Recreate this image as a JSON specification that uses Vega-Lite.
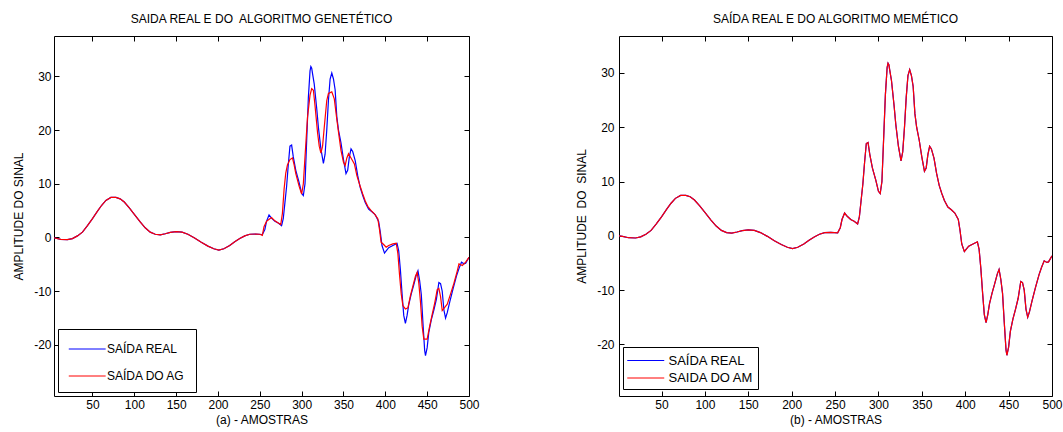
{
  "$schema": "https://vega.github.io/schema/vega-lite/v6.json",
  "background": "white",
  "padding": {"left": 12, "top": 12, "right": 0, "bottom": 5},
  "spacing": 95,
  "config": {
    "font": "Liberation Sans",
    "view": {"stroke": "black", "strokeWidth": 1},
    "axis": {"grid": false, "domain": false, "ticks": true, "offset": -5, "tickSize": 5, "tickWidth": 1, "tickColor": "#000000", "tickOpacity": 1, "labelColor": "black", "titleColor": "black", "labelFont": "Liberation Sans", "titleFont": "Liberation Sans", "labelFontSize": 12, "titleFontSize": 12, "titleFontWeight": "normal", "labelPadding": 3, "labelFlush": false, "labelOverlap": false, "labelExpr": "'' + datum.value", "zindex": 1},
    "title": {"font": "Liberation Sans", "fontSize": 12, "fontWeight": "normal", "color": "black", "offset": 10},
    "legend": {"labelFont": "Liberation Sans", "labelFontSize": 12, "labelColor": "black", "strokeColor": "black", "fillColor": "white"}
  },
  "datasets": {
    "real": [{"n":1,"v":0},{"n":5,"v":-0.1},{"n":12,"v":-0.35},{"n":20,"v":-0.4},{"n":26,"v":-0.2},{"n":32,"v":0.3},{"n":38,"v":1.0},{"n":44,"v":2.2},{"n":50,"v":3.5},{"n":56,"v":4.9},{"n":61,"v":6.0},{"n":66,"v":6.9},{"n":72,"v":7.45},{"n":78,"v":7.45},{"n":83,"v":7.2},{"n":88,"v":6.6},{"n":94,"v":5.5},{"n":100,"v":4.3},{"n":107,"v":2.9},{"n":113,"v":1.8},{"n":119,"v":1.0},{"n":125,"v":0.6},{"n":131,"v":0.5},{"n":137,"v":0.7},{"n":143,"v":0.95},{"n":150,"v":1.1},{"n":157,"v":1.0},{"n":164,"v":0.6},{"n":172,"v":-0.1},{"n":180,"v":-0.9},{"n":188,"v":-1.6},{"n":195,"v":-2.1},{"n":201,"v":-2.35},{"n":207,"v":-2.1},{"n":214,"v":-1.5},{"n":220,"v":-0.8},{"n":226,"v":-0.2},{"n":232,"v":0.3},{"n":238,"v":0.6},{"n":245,"v":0.65},{"n":253,"v":0.55},{"n":256,"v":1.5},{"n":258,"v":3.0},{"n":261,"v":4.2},{"n":264,"v":3.6},{"n":268,"v":3.0},{"n":272,"v":2.7},{"n":276,"v":2.2},{"n":278,"v":3.5},{"n":280,"v":6.5},{"n":282,"v":9.5},{"n":284,"v":13.5},{"n":286,"v":17.0},{"n":288,"v":17.2},{"n":290,"v":15.0},{"n":293,"v":12.5},{"n":297,"v":10.2},{"n":300,"v":8.2},{"n":302,"v":7.8},{"n":304,"v":10.0},{"n":306,"v":18},{"n":308,"v":26},{"n":310,"v":31},{"n":311,"v":31.8},{"n":312,"v":31.5},{"n":313,"v":30.5},{"n":315,"v":28.6},{"n":318,"v":24},{"n":320,"v":20.5},{"n":323,"v":16.5},{"n":326,"v":13.8},{"n":328,"v":15.5},{"n":330,"v":20},{"n":332,"v":25.5},{"n":334,"v":29.5},{"n":336,"v":30.6},{"n":338,"v":29.5},{"n":340,"v":27.5},{"n":342,"v":22.5},{"n":344,"v":20.0},{"n":347,"v":17.6},{"n":350,"v":14.5},{"n":353,"v":11.9},{"n":355,"v":12.5},{"n":357,"v":15.0},{"n":359,"v":16.5},{"n":361,"v":16.0},{"n":364,"v":14.3},{"n":367,"v":11.5},{"n":370,"v":9.3},{"n":373,"v":7.8},{"n":376,"v":6.5},{"n":380,"v":5.3},{"n":384,"v":4.8},{"n":388,"v":4.2},{"n":392,"v":3.0},{"n":394,"v":1.0},{"n":396,"v":-1.5},{"n":399,"v":-2.9},{"n":401,"v":-2.5},{"n":404,"v":-1.9},{"n":409,"v":-1.5},{"n":414,"v":-1.1},{"n":416,"v":-2.5},{"n":418,"v":-6.0},{"n":420,"v":-10.5},{"n":422,"v":-14.5},{"n":424,"v":-16.0},{"n":426,"v":-14.5},{"n":428,"v":-12.5},{"n":431,"v":-10.5},{"n":434,"v":-8.8},{"n":437,"v":-7.0},{"n":439,"v":-6.2},{"n":441,"v":-8.0},{"n":443,"v":-10.6},{"n":445,"v":-16.0},{"n":447,"v":-21.0},{"n":448,"v":-22.0},{"n":450,"v":-20.5},{"n":452,"v":-17.6},{"n":455,"v":-15.3},{"n":458,"v":-13.5},{"n":461,"v":-11.5},{"n":464,"v":-8.4},{"n":466,"v":-8.6},{"n":468,"v":-10.0},{"n":470,"v":-13.5},{"n":472,"v":-15.0},{"n":474,"v":-14.0},{"n":477,"v":-12.0},{"n":481,"v":-9.5},{"n":485,"v":-7.2},{"n":488,"v":-5.8},{"n":491,"v":-4.6},{"n":494,"v":-4.9},{"n":496,"v":-4.8},{"n":500,"v":-3.7}],
    "ag": [{"n":1,"v":0},{"n":5,"v":-0.1},{"n":12,"v":-0.35},{"n":20,"v":-0.4},{"n":26,"v":-0.2},{"n":32,"v":0.3},{"n":38,"v":1.0},{"n":44,"v":2.2},{"n":50,"v":3.5},{"n":56,"v":4.9},{"n":61,"v":6.0},{"n":66,"v":6.9},{"n":72,"v":7.45},{"n":78,"v":7.45},{"n":83,"v":7.2},{"n":88,"v":6.6},{"n":94,"v":5.5},{"n":100,"v":4.3},{"n":107,"v":2.9},{"n":113,"v":1.8},{"n":119,"v":1.0},{"n":125,"v":0.6},{"n":131,"v":0.5},{"n":137,"v":0.7},{"n":143,"v":0.95},{"n":150,"v":1.1},{"n":157,"v":1.0},{"n":164,"v":0.6},{"n":172,"v":-0.1},{"n":180,"v":-0.9},{"n":188,"v":-1.6},{"n":195,"v":-2.1},{"n":201,"v":-2.35},{"n":207,"v":-2.1},{"n":214,"v":-1.5},{"n":220,"v":-0.8},{"n":226,"v":-0.2},{"n":232,"v":0.3},{"n":238,"v":0.6},{"n":245,"v":0.65},{"n":250,"v":0.6},{"n":253,"v":0.4},{"n":255,"v":2.0},{"n":258,"v":3.0},{"n":262,"v":3.5},{"n":264,"v":3.7},{"n":268,"v":3.1},{"n":272,"v":2.7},{"n":275,"v":2.4},{"n":277,"v":4.5},{"n":279,"v":9.0},{"n":281,"v":12.0},{"n":283,"v":13.5},{"n":286,"v":14.5},{"n":289,"v":14.8},{"n":291,"v":13.5},{"n":293,"v":11.9},{"n":297,"v":9.5},{"n":300,"v":8.1},{"n":302,"v":10.0},{"n":304,"v":15},{"n":307,"v":22.4},{"n":310,"v":26.5},{"n":312,"v":27.7},{"n":314,"v":27.4},{"n":316,"v":24.5},{"n":319,"v":19.5},{"n":321,"v":17.0},{"n":323,"v":15.7},{"n":325,"v":17},{"n":327,"v":20.5},{"n":330,"v":25.5},{"n":332,"v":26.8},{"n":336,"v":27.1},{"n":339,"v":25.8},{"n":342,"v":22.0},{"n":345,"v":18.5},{"n":347,"v":16.2},{"n":350,"v":14.0},{"n":352,"v":13.4},{"n":354,"v":14.8},{"n":356,"v":15.6},{"n":359,"v":14.8},{"n":363,"v":13.7},{"n":366,"v":11.5},{"n":370,"v":9.5},{"n":373,"v":8.1},{"n":376,"v":6.8},{"n":379,"v":5.8},{"n":383,"v":5.0},{"n":387,"v":4.4},{"n":391,"v":3.5},{"n":393,"v":1.5},{"n":395,"v":-0.9},{"n":398,"v":-1.3},{"n":401,"v":-1.8},{"n":404,"v":-1.5},{"n":409,"v":-1.2},{"n":413,"v":-1.05},{"n":415,"v":-3.0},{"n":417,"v":-7.0},{"n":419,"v":-10.5},{"n":421,"v":-12.7},{"n":424,"v":-13.3},{"n":427,"v":-13.1},{"n":430,"v":-10.8},{"n":433,"v":-9.0},{"n":436,"v":-7.2},{"n":438,"v":-6.5},{"n":440,"v":-8.5},{"n":442,"v":-12.0},{"n":444,"v":-16.5},{"n":446,"v":-18.9},{"n":450,"v":-18.9},{"n":453,"v":-16.5},{"n":456,"v":-14.3},{"n":459,"v":-12.2},{"n":462,"v":-9.7},{"n":464,"v":-9.5},{"n":466,"v":-11.0},{"n":468,"v":-13.6},{"n":471,"v":-13.0},{"n":474,"v":-12.4},{"n":478,"v":-10.5},{"n":482,"v":-8.5},{"n":486,"v":-6.2},{"n":488,"v":-4.9},{"n":492,"v":-5.2},{"n":496,"v":-4.6},{"n":500,"v":-3.7}],
    "am": [{"n":1,"v":0},{"n":5,"v":-0.1},{"n":12,"v":-0.35},{"n":20,"v":-0.4},{"n":26,"v":-0.2},{"n":32,"v":0.3},{"n":38,"v":1.0},{"n":44,"v":2.2},{"n":50,"v":3.5},{"n":56,"v":4.9},{"n":61,"v":6.0},{"n":66,"v":6.9},{"n":72,"v":7.45},{"n":78,"v":7.45},{"n":83,"v":7.2},{"n":88,"v":6.6},{"n":94,"v":5.5},{"n":100,"v":4.3},{"n":107,"v":2.9},{"n":113,"v":1.8},{"n":119,"v":1.0},{"n":125,"v":0.6},{"n":131,"v":0.5},{"n":137,"v":0.7},{"n":143,"v":0.95},{"n":150,"v":1.1},{"n":157,"v":1.0},{"n":164,"v":0.6},{"n":172,"v":-0.1},{"n":180,"v":-0.9},{"n":188,"v":-1.6},{"n":195,"v":-2.1},{"n":201,"v":-2.35},{"n":207,"v":-2.1},{"n":214,"v":-1.5},{"n":220,"v":-0.8},{"n":226,"v":-0.2},{"n":232,"v":0.3},{"n":238,"v":0.6},{"n":245,"v":0.65},{"n":253,"v":0.55},{"n":256,"v":1.5},{"n":258,"v":3.0},{"n":261,"v":4.2},{"n":264,"v":3.6},{"n":268,"v":3.0},{"n":272,"v":2.7},{"n":276,"v":2.2},{"n":278,"v":3.5},{"n":280,"v":6.5},{"n":282,"v":9.5},{"n":284,"v":13.5},{"n":286,"v":17.0},{"n":288,"v":17.2},{"n":290,"v":15.0},{"n":293,"v":12.5},{"n":297,"v":10.2},{"n":300,"v":8.2},{"n":302,"v":7.8},{"n":304,"v":10.0},{"n":306,"v":18},{"n":308,"v":26},{"n":310,"v":31},{"n":311,"v":31.8},{"n":312,"v":31.5},{"n":313,"v":30.5},{"n":315,"v":28.6},{"n":318,"v":24},{"n":320,"v":20.5},{"n":323,"v":16.5},{"n":326,"v":13.8},{"n":328,"v":15.5},{"n":330,"v":20},{"n":332,"v":25.5},{"n":334,"v":29.5},{"n":336,"v":30.6},{"n":338,"v":29.5},{"n":340,"v":27.5},{"n":342,"v":22.5},{"n":344,"v":20.0},{"n":347,"v":17.6},{"n":350,"v":14.5},{"n":353,"v":11.9},{"n":355,"v":12.5},{"n":357,"v":15.0},{"n":359,"v":16.5},{"n":361,"v":16.0},{"n":364,"v":14.3},{"n":367,"v":11.5},{"n":370,"v":9.3},{"n":373,"v":7.8},{"n":376,"v":6.5},{"n":380,"v":5.3},{"n":384,"v":4.8},{"n":388,"v":4.2},{"n":392,"v":3.0},{"n":394,"v":1.0},{"n":396,"v":-1.5},{"n":399,"v":-2.9},{"n":401,"v":-2.5},{"n":404,"v":-1.9},{"n":409,"v":-1.5},{"n":414,"v":-1.1},{"n":416,"v":-2.5},{"n":418,"v":-6.0},{"n":420,"v":-10.5},{"n":422,"v":-14.5},{"n":424,"v":-16.0},{"n":426,"v":-14.5},{"n":428,"v":-12.5},{"n":431,"v":-10.5},{"n":434,"v":-8.8},{"n":437,"v":-7.0},{"n":439,"v":-6.2},{"n":441,"v":-8.0},{"n":443,"v":-10.6},{"n":445,"v":-16.0},{"n":447,"v":-21.0},{"n":448,"v":-22.0},{"n":450,"v":-20.5},{"n":452,"v":-17.6},{"n":455,"v":-15.3},{"n":458,"v":-13.5},{"n":461,"v":-11.5},{"n":464,"v":-8.4},{"n":466,"v":-8.6},{"n":468,"v":-10.0},{"n":470,"v":-13.5},{"n":472,"v":-15.0},{"n":474,"v":-14.0},{"n":477,"v":-12.0},{"n":481,"v":-9.5},{"n":485,"v":-7.2},{"n":488,"v":-5.8},{"n":491,"v":-4.6},{"n":494,"v":-4.9},{"n":496,"v":-4.8},{"n":500,"v":-3.7}]
  },
  "resolve": {"scale": {"color": "independent"}, "legend": {"color": "independent"}},
  "hconcat": [
    {
      "title": "SAIDA REAL E DO\u00a0 ALGORITMO GENETÉTICO",
      "width": 415,
      "height": 360,
      "resolve": {"axis": {"x": "independent", "y": "independent"}},
      "layer": [
        {
          "data": {"name": "real"},
          "mark": {"type": "line", "clip": true, "strokeWidth": 1.2},
          "encoding": {
            "x": {"field": "n", "type": "quantitative", "scale": {"domain": [4, 500], "nice": false, "zero": false}, "axis": {"values": [50,100,150,200,250,300,350,400,450,500], "title": "(a) - AMOSTRAS", "titlePadding": 4}},
            "y": {"field": "v", "type": "quantitative", "scale": {"domain": [-29.5, 37.5], "nice": false, "zero": false}, "axis": {"values": [-20,-10,0,10,20,30], "title": "AMPLITUDE DO SINAL", "titlePadding": 8}},
            "color": {"datum": "SAÍDA REAL", "type": "nominal", "scale": {"domain": ["SAÍDA REAL", "SAÍDA DO AG"], "range": ["#0000ff", "#ff0000"]},
              "legend": {"orient": "none", "legendX": 4, "legendY": 293, "title": null, "symbolType": "M-1,0H3", "symbolSize": 340, "symbolStrokeWidth": 1, "labelOffset": 19, "padding": 10, "rowPadding": 11}}
          }
        },
        {
          "data": {"name": "ag"},
          "mark": {"type": "line", "clip": true, "strokeWidth": 1.2},
          "encoding": {
            "x": {"field": "n", "type": "quantitative", "axis": null},
            "y": {"field": "v", "type": "quantitative", "axis": null},
            "color": {"datum": "SAÍDA DO AG", "type": "nominal"}
          }
        },
        {
          "data": {"name": "real"},
          "mark": {"type": "line", "clip": true, "strokeOpacity": 0},
          "encoding": {
            "x": {"field": "n", "type": "quantitative", "axis": {"orient": "top", "labels": false, "title": null, "values": [50,100,150,200,250,300,350,400,450,500]}},
            "y": {"field": "v", "type": "quantitative", "axis": {"orient": "right", "labels": false, "title": null, "values": [-20,-10,0,10,20,30]}}
          }
        }
      ]
    },
    {
      "title": "SAÍDA REAL E DO ALGORITMO MEMÉTICO",
      "width": 433,
      "height": 360,
      "resolve": {"axis": {"x": "independent", "y": "independent"}},
      "layer": [
        {
          "data": {"name": "real"},
          "mark": {"type": "line", "clip": true, "strokeWidth": 1.2},
          "encoding": {
            "x": {"field": "n", "type": "quantitative", "scale": {"domain": [1, 500], "nice": false, "zero": false}, "axis": {"values": [50,100,150,200,250,300,350,400,450,500], "title": "(b) - AMOSTRAS", "titlePadding": 4}},
            "y": {"field": "v", "type": "quantitative", "scale": {"domain": [-29.5, 36.8], "nice": false, "zero": false}, "axis": {"values": [-20,-10,0,10,20,30], "title": "AMPLITUDE\u00a0 DO\u00a0 SINAL", "titlePadding": 8, "labelPadding": 5}},
            "color": {"datum": "SAÍDA REAL", "type": "nominal", "scale": {"domain": ["SAÍDA REAL", "SAIDA DO AM"], "range": ["#0000ff", "#ff0000"]},
              "legend": {"orient": "none", "legendX": 4, "legendY": 311, "title": null, "symbolType": "M-1,0H3", "symbolSize": 342, "symbolStrokeWidth": 1, "labelOffset": 22, "labelFontSize": 13, "padding": 3.5, "rowPadding": 0.5}}
          }
        },
        {
          "data": {"name": "am"},
          "mark": {"type": "line", "clip": true, "strokeWidth": 1.2},
          "encoding": {
            "x": {"field": "n", "type": "quantitative", "axis": null},
            "y": {"field": "v", "type": "quantitative", "axis": null},
            "color": {"datum": "SAIDA DO AM", "type": "nominal"}
          }
        },
        {
          "data": {"name": "real"},
          "mark": {"type": "line", "clip": true, "strokeOpacity": 0},
          "encoding": {
            "x": {"field": "n", "type": "quantitative", "axis": {"orient": "top", "labels": false, "title": null, "values": [50,100,150,200,250,300,350,400,450,500]}},
            "y": {"field": "v", "type": "quantitative", "axis": {"orient": "right", "labels": false, "title": null, "values": [-20,-10,0,10,20,30]}}
          }
        }
      ]
    }
  ]
}
